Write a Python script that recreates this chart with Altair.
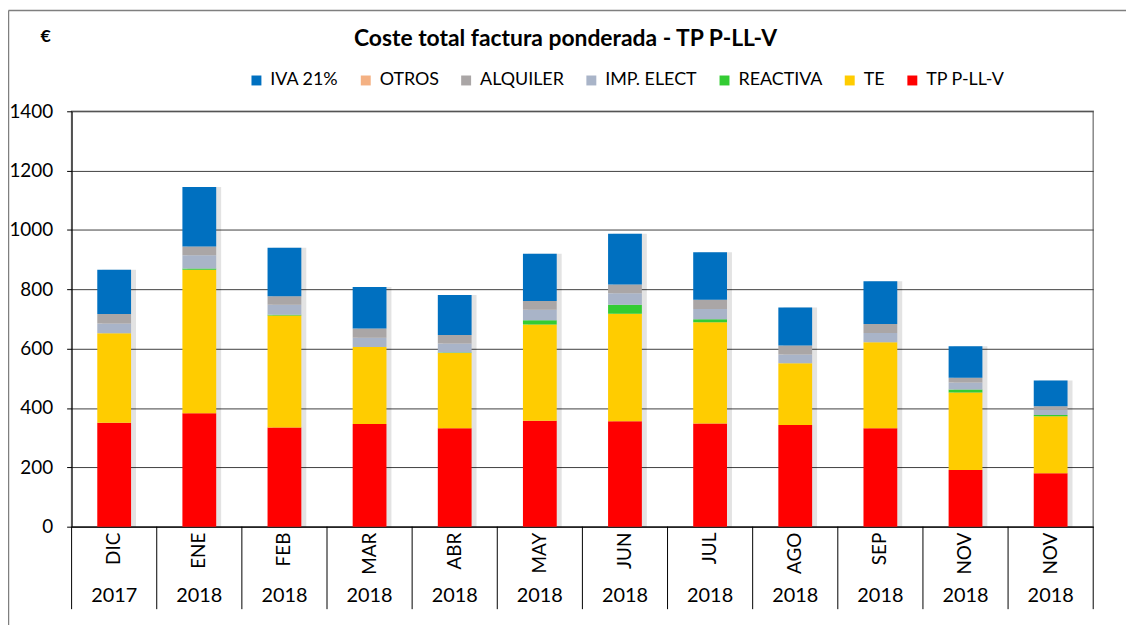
import altair as alt
import pandas as pd

# ---- data ----
months = ["DIC", "ENE", "FEB", "MAR", "ABR", "MAY", "JUN", "JUL", "AGO", "SEP", "NOV", "NOV"]
years = ["2017", "2018", "2018", "2018", "2018", "2018", "2018", "2018", "2018", "2018", "2018", "2018"]

tp_pllv = [350, 382, 334, 346, 332, 357, 355, 348, 343, 332, 191, 180]
te = [302, 484, 378, 260, 253, 324, 363, 341, 208, 290, 261, 192]
reactiva = [0, 4, 2, 0, 2, 15, 30, 10, 0, 0, 10, 4]
imp_elect = [33, 45, 34, 31, 30, 35, 39, 35, 29, 31, 24, 18]
alquiler = [32, 29, 29, 31, 29, 30, 29, 31, 31, 30, 16, 12]
otros = [0, 0, 0, 0, 0, 0, 0, 0, 0, 0, 0, 0]
iva = [149, 201, 163, 140, 135, 159, 171, 160, 128, 144, 106, 87]

legend_order = ["IVA 21%", "OTROS", "ALQUILER", "IMP. ELECT", "REACTIVA", "TE", "TP P-LL-V"]
legend_colors = ["#0070C0", "#F4B183", "#AAA6A6", "#A9B4C8", "#33CC33", "#FFCC00", "#FF0000"]
stack_series = [
    ("TP P-LL-V", tp_pllv),
    ("TE", te),
    ("REACTIVA", reactiva),
    ("IMP. ELECT", imp_elect),
    ("ALQUILER", alquiler),
    ("OTROS", otros),
    ("IVA 21%", iva),
]
y_ticks = [0, 200, 400, 600, 800, 1000, 1200, 1400]

title_text = "Coste total factura ponderada - TP P-LL-V"
unit_text = "€"

FONT = "Lato"
W, H = 1028, 418

rows = []
for order, (name, vals) in enumerate(stack_series):
    for i, v in enumerate(vals):
        rows.append({"idx": i, "serie": name, "valor": v, "orden": order})
df = pd.DataFrame(rows)

cats = pd.DataFrame({"idx": list(range(len(months))), "mes": months, "anio": years})
cats["total"] = [sum(s[1][i] for s in stack_series) for i in range(len(months))]

xscale = alt.Scale(paddingInner=0, paddingOuter=0)
xenc = alt.X("idx:O", scale=xscale,
             axis=alt.Axis(labels=False, ticks=False, title=None, grid=False,
                           domainColor="black", domainWidth=1))

shadow = alt.Chart(cats).mark_bar(size=34, xOffset=5, color="#000000", opacity=0.11).encode(
    x=xenc,
    y=alt.Y("total:Q"),
)

bars = alt.Chart(df).mark_bar(size=34).encode(
    x=xenc,
    y=alt.Y("valor:Q", stack="zero",
            scale=alt.Scale(domain=[0, 1400], nice=False),
            axis=alt.Axis(values=y_ticks, format="d", title=None, labelFont=FONT,
                          labelFontSize=19, labelColor="black", tickSize=5,
                          tickColor="black", labelPadding=14, domainColor="black",
                          gridColor="#404040", gridWidth=1)),
    color=alt.Color("serie:N",
                    scale=alt.Scale(domain=legend_order, range=legend_colors),
                    sort=legend_order,
                    legend=alt.Legend(orient="none", legendX=177, legendY=-40,
                                      direction="horizontal", title=None,
                                      symbolType="square", symbolSize=100,
                                      symbolStrokeWidth=0,
                                      labelFont=FONT, labelFontSize=18,
                                      labelColor="black", columnPadding=18,
                                      labelOffset=5)),
    order=alt.Order("orden:Q", sort="ascending"),
)

month_text = alt.Chart(cats).mark_text(angle=270, align="right", baseline="middle",
                                       font=FONT, fontSize=19, color="black").encode(
    x=alt.X("idx:O"),
    y=alt.value(H + 6),
    text="mes:N",
)

year_text = alt.Chart(cats).mark_text(align="center", baseline="middle",
                                      font=FONT, fontSize=20, color="black").encode(
    x=alt.X("idx:O"),
    y=alt.value(H + 70),
    text="anio:N",
)

separators = alt.Chart(cats).mark_rule(color="black", strokeWidth=1).encode(
    x=alt.X("idx:O", bandPosition=0),
    y=alt.value(H),
    y2=alt.value(H + 83),
)
last_sep = alt.Chart(pd.DataFrame({"k": [0]})).mark_rule(color="black", strokeWidth=1).encode(
    x=alt.value(W), y=alt.value(H), y2=alt.value(H + 83),
)

title = alt.Chart(pd.DataFrame({"t": [title_text]})).mark_text(
    font=FONT, fontSize=23, fontWeight="bold", color="black",
    align="center", baseline="middle").encode(
    text="t:N", x=alt.value(497), y=alt.value(-73))

unit = alt.Chart(pd.DataFrame({"t": [unit_text]})).mark_text(
    font=FONT, fontSize=18, fontWeight="bold", color="black",
    align="center", baseline="middle").encode(
    text="t:N", x=alt.value(-26), y=alt.value(-75))

frame_top = alt.Chart(pd.DataFrame({"k": [0]})).mark_rule(color="#7f7f7f", strokeWidth=1.5).encode(
    x=alt.value(-63.5), x2=alt.value(W + 80), y=alt.value(-101.5))
frame_left = alt.Chart(pd.DataFrame({"k": [0]})).mark_rule(color="#7f7f7f", strokeWidth=1.5).encode(
    x=alt.value(-63.5), y=alt.value(-101.5), y2=alt.value(H + 110))

chart = alt.layer(
    shadow, bars, separators, last_sep, month_text, year_text, title, unit, frame_top, frame_left
).properties(
    width=W, height=H,
    padding={"left": 64, "top": 102, "right": 33, "bottom": 97},
    autosize=alt.AutoSizeParams(type="none"),
    background="white",
).configure_view(
    stroke="#888888", strokeWidth=1.5
)

chart.save("out.html", embed_options={"renderer": "svg", "actions": False})
